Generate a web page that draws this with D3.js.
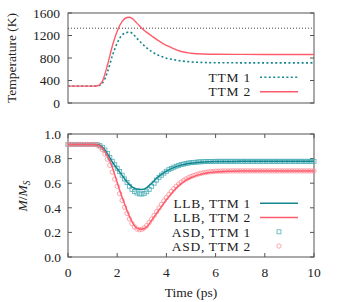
<!DOCTYPE html>
<html><head><meta charset="utf-8">
<script src="https://cdn.jsdelivr.net/npm/d3@7"></script>
<style>
html,body{margin:0;padding:0;background:#fff;}
svg text{font-family:'Liberation Serif','DejaVu Serif',serif;font-size:13.5px;fill:#222;}
</style></head>
<body>
<svg id="c" width="339" height="302" style="font-family:'Liberation Serif','DejaVu Serif',serif"></svg>
<script>
// ---------- data ----------
const xTicks = [0, 2, 4, 6, 8, 10];
const tempTicks = [0, 400, 800, 1200, 1600];
const magTicks = [0, 0.2, 0.4, 0.6, 0.8, 1.0];
const curieT = 1330;

const ttmTime = [0, 1.0, 1.2, 1.4, 1.6, 1.8, 2.0, 2.2, 2.4, 2.5, 2.6, 2.8, 3.0, 3.2, 3.4, 3.6, 3.8, 4.0, 4.2, 4.6, 5.0, 5.5, 6.0, 7.0, 8.0, 10.0];
const ttm1Temp = [300, 300, 303, 355, 545, 835, 1065, 1210, 1255, 1262, 1242, 1150, 1060, 980, 915, 865, 825, 797, 778, 748, 730, 720, 716, 714, 713, 713];
const ttm2Temp = [300, 300, 306, 390, 670, 1010, 1275, 1450, 1520, 1525, 1505, 1420, 1330, 1255, 1192, 1130, 1075, 1025, 985, 915, 885, 870, 866, 864, 863, 863];

const llbTime = [0, 1.0, 1.2, 1.4, 1.6, 1.8, 2.0, 2.2, 2.4, 2.6, 2.8, 3.0, 3.2, 3.4, 3.6, 3.8, 4.0, 4.2, 4.4, 4.6, 4.8, 5.0, 5.5, 6.0, 6.5, 7.0, 8.0, 10.0];
const llbTTM1 = [0.915, 0.915, 0.912, 0.893, 0.84, 0.773, 0.718, 0.664, 0.61, 0.57, 0.552, 0.548, 0.565, 0.6, 0.64, 0.672, 0.698, 0.718, 0.735, 0.747, 0.756, 0.762, 0.772, 0.776, 0.777, 0.778, 0.778, 0.778];
const llbTTM2 = [0.915, 0.915, 0.91, 0.885, 0.822, 0.73, 0.605, 0.485, 0.378, 0.287, 0.235, 0.225, 0.245, 0.298, 0.355, 0.41, 0.465, 0.515, 0.56, 0.597, 0.625, 0.645, 0.678, 0.692, 0.698, 0.70, 0.70, 0.70];

const asdTime = d3.range(0, 101).map(i => i / 10);
const asdTTM1 = [
 0.915,0.915,0.915,0.915,0.915,0.915,0.915,0.915,0.915,0.915,
 0.915,0.915,0.913,0.905,0.892,0.87,0.842,0.81,0.778,0.75,
 0.722,0.695,0.665,0.635,0.605,0.575,0.55,0.532,0.52,0.513,
 0.512,0.517,0.53,0.55,0.575,0.6,0.625,0.648,0.665,0.682,
 0.697,0.71,0.72,0.73,0.738,0.745,0.751,0.756,0.76,0.764,
 0.767,0.769,0.771,0.773,0.774,0.775,0.776,0.777,0.777,0.777,
 0.778,0.778,0.778,0.778,0.778,0.778,0.778,0.778,0.778,0.778,
 0.778,0.778,0.778,0.778,0.778,0.778,0.778,0.778,0.778,0.778,
 0.778,0.778,0.778,0.778,0.778,0.778,0.778,0.778,0.778,0.778,
 0.778,0.778,0.778,0.778,0.778,0.778,0.778,0.778,0.778,0.778,
 0.778];
const asdTTM2 = [
 0.915,0.915,0.915,0.915,0.915,0.915,0.915,0.915,0.915,0.915,
 0.915,0.915,0.908,0.895,0.872,0.838,0.795,0.745,0.69,0.633,
 0.575,0.515,0.46,0.405,0.355,0.31,0.272,0.245,0.228,0.222,
 0.225,0.236,0.255,0.28,0.308,0.338,0.368,0.398,0.428,0.456,
 0.483,0.508,0.532,0.555,0.575,0.593,0.608,0.622,0.634,0.645,
 0.654,0.662,0.669,0.675,0.68,0.684,0.688,0.691,0.693,0.695,
 0.697,0.698,0.698,0.699,0.699,0.699,0.70,0.70,0.70,0.70,
 0.70,0.70,0.70,0.70,0.70,0.70,0.70,0.70,0.70,0.70,
 0.70,0.70,0.70,0.70,0.70,0.70,0.70,0.70,0.70,0.70,
 0.70,0.70,0.70,0.70,0.70,0.70,0.70,0.70,0.70,0.70,
 0.70];

// ---------- style ----------
const teal = "#14868f", red = "#ff5c6b", tealL = "#4fb0b8", redL = "#ff8e98", frame = "#555";
const FONT = "'Liberation Serif','DejaVu Serif',serif";

const svg = d3.select("#c");
const L = 68, R = 314;
const x = d3.scaleLinear().domain([0, 10]).range([L, R]);
const yT = d3.scaleLinear().domain([0, 1600]).range([103, 13]);
const yM = d3.scaleLinear().domain([0, 1]).range([257, 134]);

function txt(sel) { return sel.attr("font-family", FONT).attr("font-size", "13.5px").attr("fill", "#222"); }

function frameTicks(yScale, yvals, top, bottom, withX) {
  const g = svg.append("g");
  const tl = 4;
  yvals.forEach(v => {
    const yy = yScale(v);
    g.append("line").attr("x1", L).attr("x2", L + tl).attr("y1", yy).attr("y2", yy).attr("stroke", frame);
    g.append("line").attr("x1", R).attr("x2", R - tl).attr("y1", yy).attr("y2", yy).attr("stroke", frame);
  });
  if (withX) xTicks.forEach(v => {
    const xx = x(v);
    g.append("line").attr("x1", xx).attr("x2", xx).attr("y1", bottom).attr("y2", bottom - tl).attr("stroke", frame);
    g.append("line").attr("x1", xx).attr("x2", xx).attr("y1", top).attr("y2", top + tl).attr("stroke", frame);
  });
  g.append("rect").attr("x", L).attr("y", top).attr("width", R - L).attr("height", bottom - top)
    .attr("fill", "none").attr("stroke", frame).attr("stroke-width", 1);
}

// ---------- top panel ----------
frameTicks(yT, tempTicks, 13, 103, false);
txt(svg.append("g").selectAll("text").data(tempTicks).join("text"))
  .attr("x", 60).attr("y", d => yT(d)).attr("dy", "0.35em").attr("text-anchor", "end").text(d => d);

svg.append("line").attr("x1", L).attr("x2", R).attr("y1", yT(curieT)).attr("y2", yT(curieT))
  .attr("stroke", "#444").attr("stroke-width", 1).attr("stroke-dasharray", "1,2");

const lineT = arr => d3.line().x((d, i) => x(ttmTime[i])).y(d => yT(d)).curve(d3.curveMonotoneX)(arr);
svg.append("path").attr("d", lineT(ttm1Temp)).attr("fill", "none").attr("stroke", teal)
  .attr("stroke-width", 1.6).attr("stroke-dasharray", "2,2.4");
svg.append("path").attr("d", lineT(ttm2Temp)).attr("fill", "none").attr("stroke", red).attr("stroke-width", 1.4);

txt(svg.append("text")).attr("transform", "translate(11,58) rotate(-90)").attr("text-anchor", "middle")
  .attr("dy", "0.35em").text("Temperature (K)");

// top legend
const legTop = [{t: "TTM 1", c: teal, dash: "2,2.4", w: 1.6}, {t: "TTM 2", c: red, dash: null, w: 1.4}];
legTop.forEach((d, i) => {
  const yy = 77.3 + i * 14.4;
  txt(svg.append("text")).attr("x", 251).attr("y", yy).attr("dy", "0.35em").attr("text-anchor", "end")
    .attr("letter-spacing", "0.8").text(d.t);
  svg.append("line").attr("x1", 260).attr("x2", 298).attr("y1", yy).attr("y2", yy)
    .attr("stroke", d.c).attr("stroke-width", d.w).attr("stroke-dasharray", d.dash);
});

// ---------- bottom panel ----------
frameTicks(yM, magTicks, 134, 257, true);
txt(svg.append("g").selectAll("text").data(magTicks).join("text"))
  .attr("x", 61).attr("y", d => yM(d)).attr("dy", "0.35em").attr("text-anchor", "end").text(d => d.toFixed(1));
txt(svg.append("g").selectAll("text").data(xTicks).join("text"))
  .attr("x", d => x(d)).attr("y", 272).attr("dy", "0.35em").attr("text-anchor", "middle").text(d => d);

const lineM = arr => d3.line().x((d, i) => x(llbTime[i])).y(d => yM(d)).curve(d3.curveMonotoneX)(arr);

// ASD markers
svg.append("g").selectAll("rect").data(asdTTM1).join("rect")
  .attr("x", (d, i) => x(asdTime[i]) - 2).attr("y", d => yM(d) - 2).attr("width", 4).attr("height", 4)
  .attr("fill", "none").attr("stroke", tealL).attr("stroke-width", 0.8);
svg.append("g").selectAll("circle").data(asdTTM2).join("circle")
  .attr("cx", (d, i) => x(asdTime[i])).attr("cy", d => yM(d)).attr("r", 2.2)
  .attr("fill", "none").attr("stroke", redL).attr("stroke-width", 0.8);

svg.append("path").attr("d", lineM(llbTTM1)).attr("fill", "none").attr("stroke", teal).attr("stroke-width", 1.5);
svg.append("path").attr("d", lineM(llbTTM2)).attr("fill", "none").attr("stroke", red).attr("stroke-width", 1.5);

// y label M/M_S
const yl = txt(svg.append("text")).attr("transform", "translate(22,196) rotate(-90)").attr("text-anchor", "middle").attr("dy", "0.35em");
yl.append("tspan").attr("font-style", "italic").text("M");
yl.append("tspan").text("/");
yl.append("tspan").attr("font-style", "italic").text("M");
yl.append("tspan").attr("font-style", "italic").attr("font-size", "9.5px").attr("dy", "3").text("S");

txt(svg.append("text")).attr("x", (L + R) / 2).attr("y", 292).attr("dy", "0.35em").attr("text-anchor", "middle").text("Time (ps)");

// bottom legend
const legBot = [
  {t: "LLB, TTM 1", type: "line", c: teal},
  {t: "LLB, TTM 2", type: "line", c: red},
  {t: "ASD, TTM 1", type: "sq", c: tealL},
  {t: "ASD, TTM 2", type: "ci", c: redL}
];
legBot.forEach((d, i) => {
  const yy = 203.3 + i * 14.25;
  txt(svg.append("text")).attr("x", 251).attr("y", yy).attr("dy", "0.35em").attr("text-anchor", "end")
    .attr("letter-spacing", "0.7").text(d.t);
  if (d.type === "line")
    svg.append("line").attr("x1", 260).attr("x2", 298).attr("y1", yy).attr("y2", yy).attr("stroke", d.c).attr("stroke-width", 1.5);
  else if (d.type === "sq")
    svg.append("rect").attr("x", 277).attr("y", yy - 2).attr("width", 4).attr("height", 4).attr("fill", "none").attr("stroke", d.c).attr("stroke-width", 0.8);
  else
    svg.append("circle").attr("cx", 279).attr("cy", yy).attr("r", 2.2).attr("fill", "none").attr("stroke", d.c).attr("stroke-width", 0.8);
});
</script>
</body></html>
